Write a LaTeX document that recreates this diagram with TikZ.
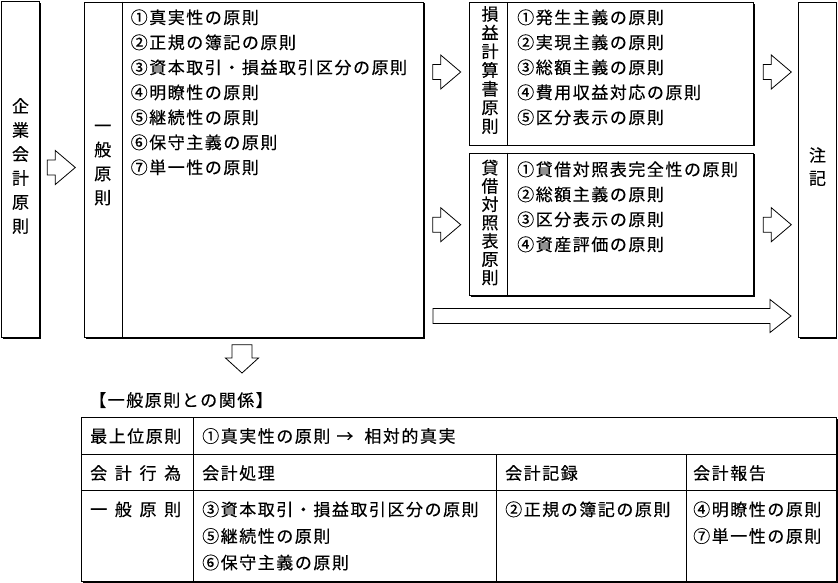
\documentclass[tikz,border=0pt]{standalone}
\usepackage{fontspec}
\newfontfamily\jpfont[LetterSpace=9,FakeBold=0.3]{Noto Sans CJK JP}
\newfontfamily\jpvfont[FakeBold=0.3]{Noto Sans CJK JP}
\usetikzlibrary{shadows}
\begin{document}
\begin{tikzpicture}[x=1pt,y=-1pt,
  box/.style={draw, line width=0.9pt, fill=white, inner sep=0pt, anchor=north west,
    drop shadow={shadow xshift=1.1pt, shadow yshift=-1.1pt, fill=black, opacity=1}},
  vlab/.style={inner sep=0pt, align=center},
  item/.style={inner sep=0pt, anchor=base west, font=\jpfont\fontsize{17}{20}\selectfont},
  blk/.style={draw=black, fill=white, line width=0.8pt, line join=miter},
  rblk/.pic={\draw[blk] (0,-7.5) -- (8,-7.5) -- (8,-17) -- (28,0) -- (8,17) -- (8,7.5) -- (0,7.5) -- cycle;},
  cell/.style={line width=0.8pt}
]
\useasboundingbox (0,0) rectangle (838,582);
\fill[white] (0,0) rectangle (838,582);

% boxes
\node[box, minimum width=38pt, minimum height=336pt] (kigyo) at (1,1) {};
\node[box, minimum width=339pt, minimum height=335.5pt] (ippan) at (84,1.5) {};
\node[box, minimum width=284pt, minimum height=142.5pt] (pl) at (469,2) {};
\node[box, minimum width=284pt, minimum height=142.5pt] (bs) at (469,152.5) {};
\node[box, minimum width=37.5pt, minimum height=335.5pt] (chuki) at (798,1.5) {};

% dividers
\draw[line width=0.9pt] ([xshift=38pt]ippan.north west) -- ([xshift=38pt]ippan.south west);
\draw[line width=0.9pt] ([xshift=38pt]pl.north west) -- ([xshift=38pt]pl.south west);
\draw[line width=0.9pt] ([xshift=38pt]bs.north west) -- ([xshift=38pt]bs.south west);

% vertical labels
\node[vlab, font=\jpvfont\fontsize{17}{24}\selectfont] (kigyoL) at (20.5,166) {企\\業\\会\\計\\原\\則};
\node[vlab, font=\jpvfont\fontsize{17}{24}\selectfont] (ippanL) at (102.7,165) {一\\般\\原\\則};
\node[vlab, font=\jpvfont\fontsize{17}{18.7}\selectfont] (plL) at (490,70) {損\\益\\計\\算\\書\\原\\則};
\node[vlab, font=\jpvfont\fontsize{17}{18.3}\selectfont] (bsL) at (490,222.5) {貸\\借\\対\\照\\表\\原\\則};
\node[vlab, font=\jpvfont\fontsize{17}{23}\selectfont] (chukiL) at (817.5,166.5) {注\\記};

% list items
\foreach \t [count=\i] in {①真実性の原則,②正規の簿記の原則,③資本取引・損益取引区分の原則,④明瞭性の原則,⑤継続性の原則,⑥保守主義の原則,⑦単一性の原則}
  \node[item] (ip\i) at (130.5,{23.8+25*(\i-1)}) {\t};
\foreach \t [count=\i] in {①発生主義の原則,②実現主義の原則,③総額主義の原則,④費用収益対応の原則,⑤区分表示の原則}
  \node[item] (pl\i) at (517,{23.8+25*(\i-1)}) {\t};
\foreach \t [count=\i] in {①貸借対照表完全性の原則,②総額主義の原則,③区分表示の原則,④資産評価の原則}
  \node[item] (bs\i) at (517,{175.8+25*(\i-1)}) {\t};

% block arrows
\pic (a1) at (47.3,167.5) {rblk};
\pic (a2) at (432.7,72) {rblk};
\pic (a3) at (432.7,224.7) {rblk};
\pic (a4) at (763.3,72) {rblk};
\pic (a5) at (763.3,224.7) {rblk};
\draw[blk] (433,308.5) -- (770,308.5) -- (770,299.5) -- (791,316) -- (770,332.5) -- (770,323.5) -- (433,323.5) -- cycle;
\draw[blk] (232,344.7) -- (252,344.7) -- (252,358) -- (258.5,358) -- (242,373) -- (225.5,358) -- (232,358) -- cycle;

% heading
\node[item] (head) at (89,406.5) {【一般原則との関係】};

% table
\node[box, minimum width=755pt, minimum height=164pt] (tbl) at (81,417) {};
\draw[cell] (81,454) -- (836,454);
\draw[cell] (81,490) -- (836,490);
\draw[cell] (193,417) -- (193,581);
\draw[cell] (496,454) -- (496,581);
\draw[cell] (686,454) -- (686,581);

\node[item] (t11) at (90,442.5) {最上位原則};
\node[item] (t12) at (202,442.5) {①真実性の原則\makebox[34pt][l]{\hspace{6pt}→}相対的真実};
\node[item] (t21) at (90,479.5) {\makebox[91pt][s]{会\hfill 計\hfill 行\hfill 為}};
\node[item] (t22) at (202,479.5) {会計処理};
\node[item] (t23) at (505,479.5) {会計記録};
\node[item] (t24) at (693,479.5) {会計報告};
\node[item] (t31) at (90,515.8) {\makebox[91pt][s]{一\hfill 般\hfill 原\hfill 則}};
\node[item] (t32a) at (202,515.8) {③資本取引・損益取引区分の原則};
\node[item] (t32b) at (202,542.5) {⑤継続性の原則};
\node[item] (t32c) at (202,569) {⑥保守主義の原則};
\node[item] (t33) at (505,515.8) {②正規の簿記の原則};
\node[item] (t34a) at (693,515.8) {④明瞭性の原則};
\node[item] (t34b) at (693,542.5) {⑦単一性の原則};
\end{tikzpicture}
\end{document}
